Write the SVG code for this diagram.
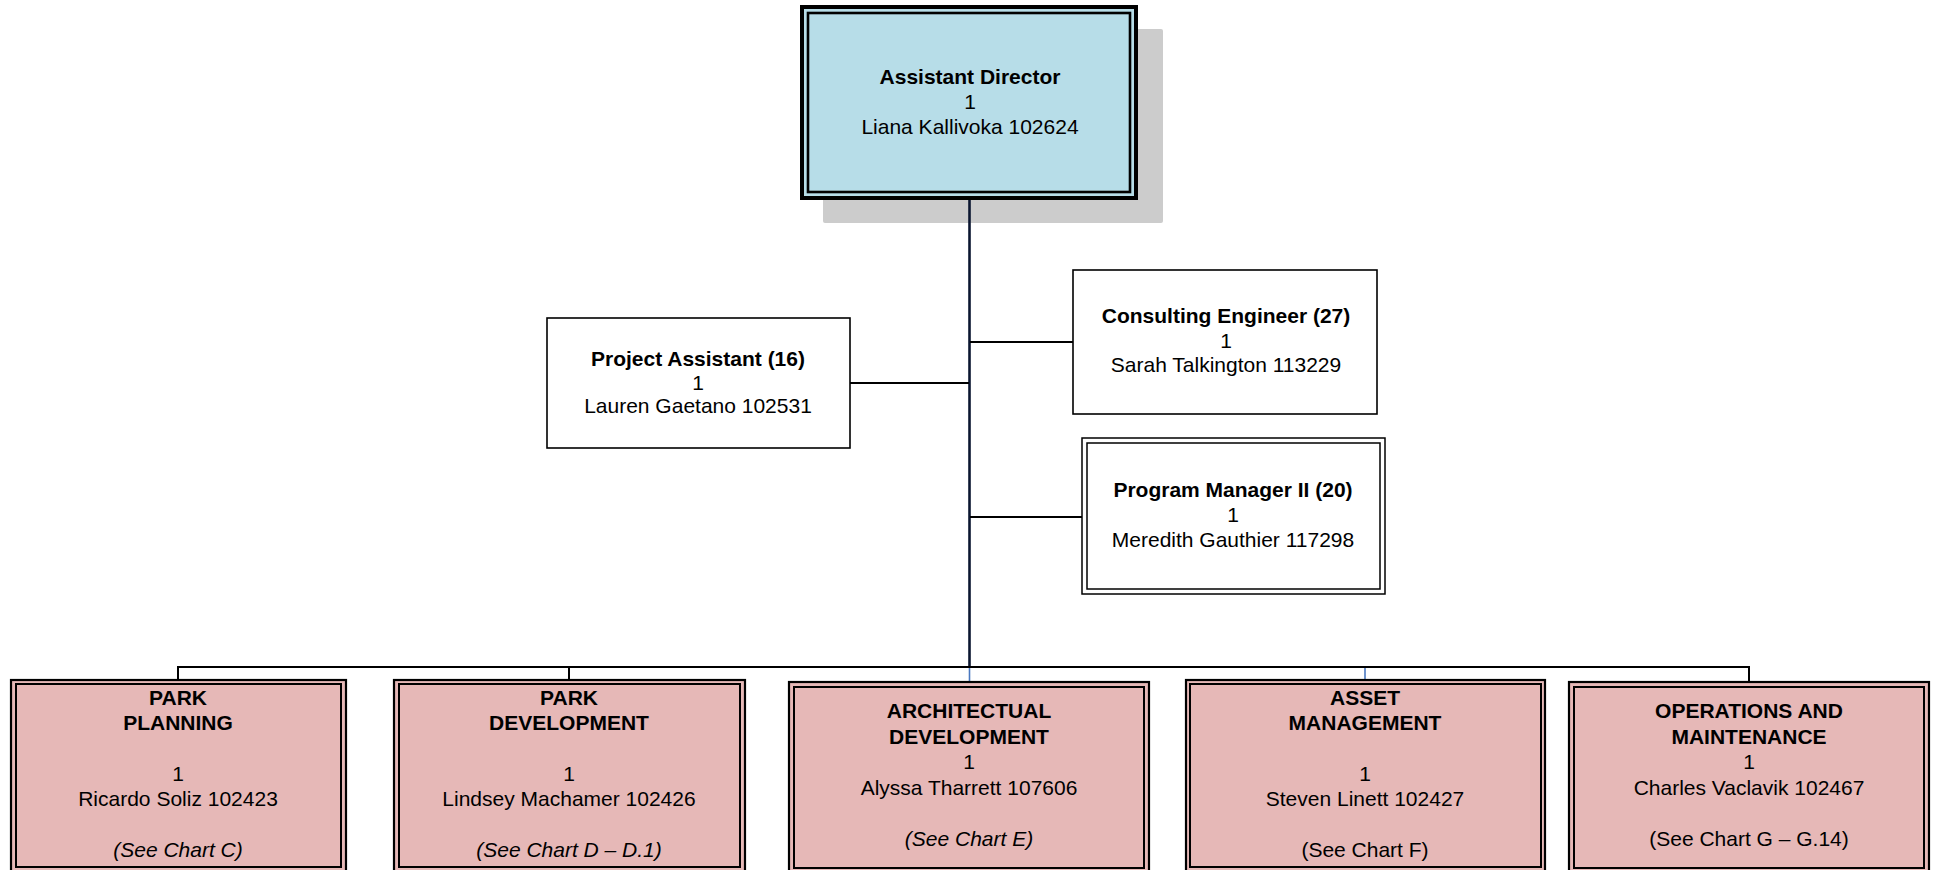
<svg xmlns="http://www.w3.org/2000/svg" width="1935" height="870" viewBox="0 0 1935 870">
<defs>
<style>
text{font-family:"Liberation Sans",Arial,sans-serif;font-size:21px;fill:#000;text-anchor:middle}
.b{font-weight:bold}
.i{font-style:italic}
.plain{fill:#fff;stroke:#000;stroke-width:1.6}
.dblo{fill:#e6b8b7;stroke:#000;stroke-width:2.2}
.dbli{fill:none;stroke:#000;stroke-width:2}
.pmo{fill:#fff;stroke:#000;stroke-width:1.5}
.pmi{fill:none;stroke:#000;stroke-width:1.5}
.con{fill:none;stroke:#000;stroke-width:2}
.blue{fill:none;stroke:#4a78c0;stroke-width:1.6}
</style>
</defs>
<rect width="1935" height="870" fill="#fff"/>
<rect x="823" y="29" width="340" height="194" fill="#cccccc" rx="2"/>
<g id="connectors">
<line x1="969.5" y1="200" x2="969.5" y2="667" stroke="#0b1630" stroke-width="2.6"/>
<line class="con" x1="850" y1="383" x2="969" y2="383"/>
<line class="con" x1="970" y1="342" x2="1073" y2="342"/>
<line class="con" x1="970" y1="517" x2="1082" y2="517"/>
<path class="con" d="M178 679 V667 H1749 V681"/>
<line class="con" x1="569" y1="667" x2="569" y2="679"/>
<line class="blue" x1="969.5" y1="668" x2="969.5" y2="681"/>
<line class="blue" x1="1365" y1="668" x2="1365" y2="679"/>
</g>
<g id="assistant-director">
<rect x="802" y="7" width="334" height="191" fill="#b7dde8" stroke="#000" stroke-width="4"/>
<rect x="808" y="13" width="322" height="179" fill="none" stroke="#000" stroke-width="2.6"/>
<text x="970" y="84" class="b">Assistant Director</text>
<text x="970" y="109">1</text>
<text x="970" y="134">Liana Kallivoka 102624</text>
</g>
<g id="project-assistant">
<rect class="plain" x="547" y="318" width="303" height="130"/>
<text x="698" y="366" class="b">Project Assistant (16)</text>
<text x="698" y="390">1</text>
<text x="698" y="413">Lauren Gaetano 102531</text>
</g>
<g id="consulting-engineer">
<rect class="plain" x="1073" y="270" width="304" height="144"/>
<text x="1226" y="323" class="b">Consulting Engineer (27)</text>
<text x="1226" y="348">1</text>
<text x="1226" y="372">Sarah Talkington 113229</text>
</g>
<g id="program-manager">
<rect class="pmo" x="1082" y="438" width="303" height="156"/>
<rect class="pmi" x="1087" y="443" width="293" height="146"/>
<text x="1233" y="497" class="b">Program Manager II (20)</text>
<text x="1233" y="522">1</text>
<text x="1233" y="547">Meredith Gauthier 117298</text>
</g>
<g id="park-planning">
<rect class="dblo" x="11" y="680" width="335" height="195"/>
<rect class="dbli" x="16" y="684" width="325" height="183"/>
<text x="178" y="705" class="b">PARK</text>
<text x="178" y="730" class="b">PLANNING</text>
<text x="178" y="781">1</text>
<text x="178" y="806">Ricardo Soliz 102423</text>
<text x="178" y="857" class="i">(See Chart C)</text>
</g>
<g id="park-development">
<rect class="dblo" x="394" y="680" width="351" height="195"/>
<rect class="dbli" x="399" y="684" width="341" height="183"/>
<text x="569" y="705" class="b">PARK</text>
<text x="569" y="730" class="b">DEVELOPMENT</text>
<text x="569" y="781">1</text>
<text x="569" y="806">Lindsey Machamer 102426</text>
<text x="569" y="857" class="i">(See Chart D – D.1)</text>
</g>
<g id="architectural-development">
<rect class="dblo" x="789" y="682" width="360" height="193"/>
<rect class="dbli" x="794" y="687" width="350" height="181"/>
<text x="969" y="718" class="b">ARCHITECTUAL</text>
<text x="969" y="744" class="b">DEVELOPMENT</text>
<text x="969" y="769">1</text>
<text x="969" y="795">Alyssa Tharrett 107606</text>
<text x="969" y="846" class="i">(See Chart E)</text>
</g>
<g id="asset-management">
<rect class="dblo" x="1186" y="680" width="359" height="195"/>
<rect class="dbli" x="1190" y="684" width="351" height="183"/>
<text x="1365" y="705" class="b">ASSET</text>
<text x="1365" y="730" class="b">MANAGEMENT</text>
<text x="1365" y="781">1</text>
<text x="1365" y="806">Steven Linett 102427</text>
<text x="1365" y="857">(See Chart F)</text>
</g>
<g id="operations-maintenance">
<rect class="dblo" x="1569" y="682" width="360" height="193"/>
<rect class="dbli" x="1574" y="687" width="350" height="181"/>
<text x="1749" y="718" class="b">OPERATIONS AND</text>
<text x="1749" y="744" class="b">MAINTENANCE</text>
<text x="1749" y="769">1</text>
<text x="1749" y="795">Charles Vaclavik 102467</text>
<text x="1749" y="846">(See Chart G – G.14)</text>
</g>
</svg>
